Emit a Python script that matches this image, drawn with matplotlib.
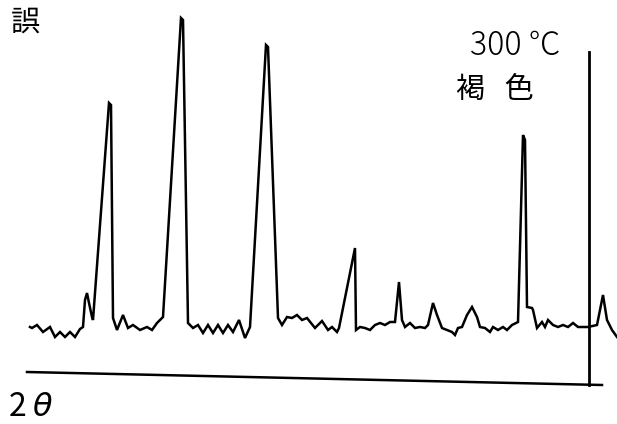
import matplotlib.pyplot as plt

plt.rcParams['font.family'] = ['Noto Sans CJK JP', 'DejaVu Sans']

# diffraction trace (x position, intensity height above page bottom)
trace_x = [30, 32, 37, 43, 50, 55, 60, 65, 70, 75, 80, 83, 85, 87, 89, 92, 93,
           109, 111, 113, 117, 123, 128, 133, 140, 147, 152, 157, 160, 163,
           181, 183, 188, 193, 198, 203, 208, 213, 218, 223, 228, 233, 239, 245, 250,
           266, 268, 278, 282, 287, 292, 297, 302, 307, 315, 322, 328, 332, 337, 339,
           355, 356, 360, 365, 370, 375, 380, 385, 390, 395, 399, 402, 405, 410, 415,
           420, 425, 428, 433, 437, 442, 447, 452, 455, 458, 462, 467, 472, 477, 480,
           485, 490, 493, 498, 503, 507, 512, 518, 523, 525, 527, 532, 533, 537, 542,
           545, 548, 553, 558, 563, 568, 573, 578, 583, 588, 597, 603, 607, 612, 617]
trace_y = [327, 328, 325, 332, 327, 337, 332, 337, 332, 337, 329, 327, 300, 293, 303, 317, 320,
           103, 105, 318, 330, 315, 328, 325, 330, 327, 330, 323, 320, 317,
           18, 20, 323, 328, 325, 333, 325, 333, 325, 333, 325, 332, 320, 338, 327,
           45, 47, 318, 325, 317, 318, 315, 320, 318, 328, 321, 330, 327, 332, 328,
           248, 330, 327, 328, 330, 325, 323, 325, 322, 322, 282, 320, 327, 323, 328,
           327, 328, 325, 303, 315, 328, 330, 332, 335, 328, 327, 315, 307, 317, 327,
           328, 332, 327, 330, 327, 330, 325, 322, 135, 140, 307, 308, 310, 328, 322,
           327, 320, 325, 327, 325, 327, 323, 327, 327, 327, 325, 295, 320, 330, 337]

# axis line and marker line
axis_x = [27, 602]
axis_y = [372, 385]
marker_x = [589, 589]
marker_y = [52, 385]

fig = plt.figure(figsize=(6.17, 4.24), dpi=100)
ax = fig.add_axes([0, 0, 1, 1])
ax.plot(trace_x, trace_y, color='black', lw=1.8, solid_joinstyle='miter')
ax.plot(axis_x, axis_y, color='black', lw=1.8)
ax.plot(marker_x, marker_y, color='black', lw=2.0)

ax.text(25, 23, '誤', fontsize=21, ha='center', va='center')
ax.text(515, 46, '300 ℃', fontsize=23, ha='center', va='center', fontweight='light')
ax.text(495, 90, '褐   色', fontsize=21, ha='center', va='center')
ax.text(8, 407, '2 $\\theta$', fontsize=23, ha='left', va='center')

ax.set_xlim(0, 617)
ax.set_ylim(424, 0)
ax.axis('off')

fig.savefig('out.png', dpi=100)
